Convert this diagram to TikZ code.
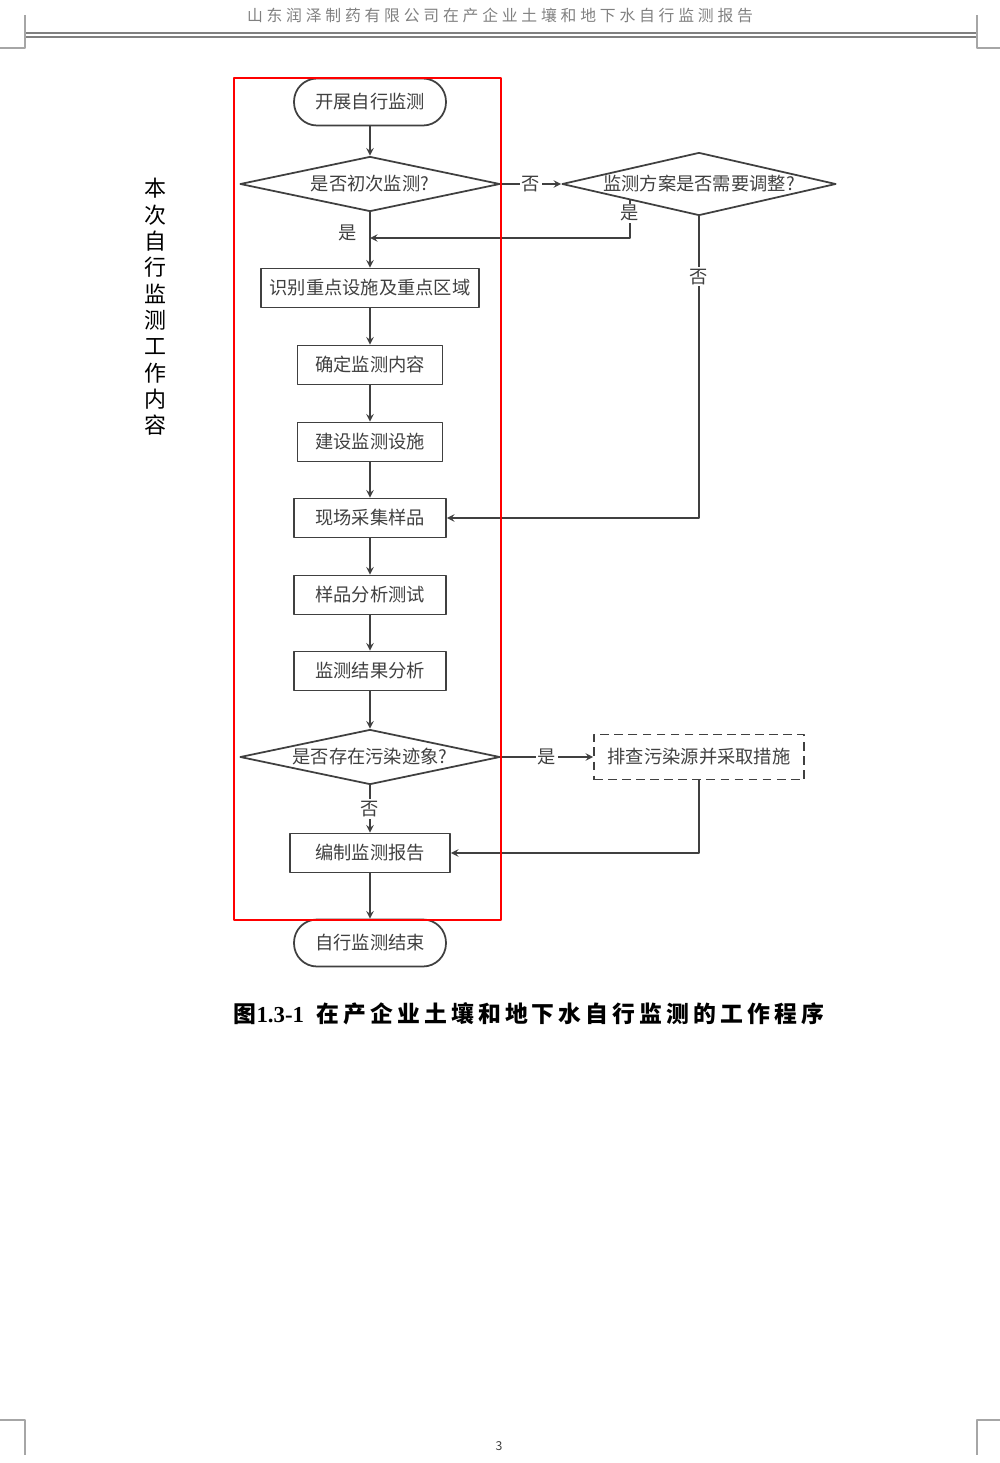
\documentclass[tikz,border=0pt]{standalone}
\usepackage{fontspec}
\setmainfont{Liberation Serif}
\newfontfamily\cjk{Noto Sans CJK SC}
\newfontfamily\cjkhead[LetterSpace=24]{Noto Sans CJK SC}
\newfontfamily\cjkcap[LetterSpace=18]{Noto Sans CJK SC}
\usetikzlibrary{shapes.geometric}
\begin{document}
\begin{tikzpicture}[x=0.02cm,y=-0.02cm,>=stealth,line join=round,
  font=\cjk\fontsize{10.4}{12}\selectfont,
  every node/.style={text=black!75},
  term/.style={draw=black!75,line width=1pt,rounded corners=0.46cm,minimum width=3.04cm,minimum height=0.94cm},
  proc/.style={draw=black!75,line width=1pt,minimum height=0.78cm,inner xsep=4pt},
  decide/.style={diamond,draw=black!75,line width=1pt,inner sep=0pt,aspect=4.7,minimum width=5.2cm,minimum height=1.1cm},
  lbl/.style={fill=white,inner sep=1pt},
  link/.style={->,draw=black!75,line width=0.9pt}]
\useasboundingbox (0,0) rectangle (1000,1463);
% page frame
\node (head) at (500,15) {\cjkhead\fontsize{9}{11}\selectfont\color{black!50}山东润泽制药有限公司在产企业土壤和地下水自行监测报告};
\draw[black!50,line width=0.9pt] (25,33)--(977,33);
\draw[black!50,line width=0.6pt] (25,37)--(977,37);
\draw[black!35,line width=0.6pt] (25,15)--(25,48)--(0,48) (977,15)--(977,48)--(1000,48)
  (0,1420)--(25,1420)--(25,1455) (1000,1420)--(977,1420)--(977,1455);
\node (pageno) at (499,1446) {\fontsize{7}{8}\selectfont 3};
\node[text=black,align=center,font=\cjk\fontsize{12.5}{15}\selectfont] (side) at (155,307) {本\\次\\自\\行\\监\\测\\工\\作\\内\\容};
% flow
\node[term] (start) at (370,102) {开展自行监测};
\node[decide] (first) at (370,184) {是否初次监测?};
\node[decide,aspect=4.35,minimum width=5.48cm,minimum height=1.26cm] (adjust) at (699,184) {监测方案是否需要调整?};
\node[proc,minimum width=4.36cm] (identify) at (370,288) {识别重点设施及重点区域};
\node[proc,minimum width=2.9cm] (content) at (370,365) {确定监测内容};
\node[proc,minimum width=2.9cm] (build) at (370,442) {建设监测设施};
\node[proc,minimum width=3.04cm] (sample) at (370,518) {现场采集样品};
\node[proc,minimum width=3.04cm] (test) at (370,595) {样品分析测试};
\node[proc,minimum width=3.04cm] (result) at (370,671) {监测结果分析};
\node[decide] (pollute) at (370,757) {是否存在污染迹象?};
\node[proc,dash pattern=on 5pt off 3pt,minimum width=4.2cm,minimum height=0.9cm] (check) at (699,757) {排查污染源并采取措施};
\node[proc,minimum width=3.2cm] (report) at (370,853) {编制监测报告};
\node[term] (finish) at (370,943) {自行监测结束};
\coordinate (yesjoin) at (370,238);
\draw[link] (start) -- (first);
\draw[link] (first) -- node[lbl]{否} (adjust);
\draw[link] (first) -- node[left,pos=0.38,xshift=-4pt]{是} (identify);
\draw[link] (adjust.south west) -- node[lbl,pos=0.35]{是} (adjust.south west |- yesjoin) -- (yesjoin);
\draw[link] (adjust) -- node[lbl,pos=0.2]{否} (adjust |- sample) -- (sample);
\draw[link] (identify) -- (content);
\draw[link] (content) -- (build);
\draw[link] (build) -- (sample);
\draw[link] (sample) -- (test);
\draw[link] (test) -- (result);
\draw[link] (result) -- (pollute);
\draw[link] (pollute) -- node[lbl]{是} (check);
\draw[link] (pollute) -- node[lbl]{否} (report);
\draw[link] (check) -- (check |- report) -- (report);
\draw[link] (report) -- (finish);
\draw[red,line width=0.9pt] (234,78) rectangle (501,920);
% caption
\node[text=black,font=\fontsize{13}{15}\selectfont\bfseries] (cap) at (529,1014) {{\cjk 图}1.3-1\hspace{7pt}{\cjkcap 在产企业土壤和地下水自行监测的工作程序}};
\end{tikzpicture}
\end{document}
